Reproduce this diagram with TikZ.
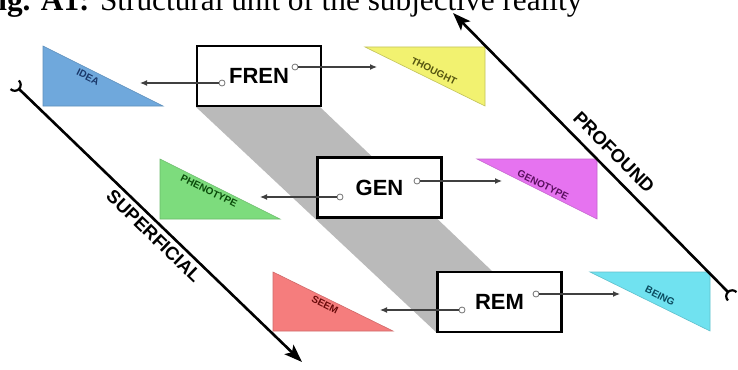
\documentclass[tikz,border=0pt]{standalone}
\usepackage{fontspec}
\setmainfont{Liberation Serif}
\setsansfont{Liberation Sans}
\usetikzlibrary{arrows.meta}
\definecolor{bandgray}{RGB}{186,186,186}
\definecolor{ideac}{RGB}{111,168,220}
\definecolor{thoughtc}{RGB}{242,242,112}
\definecolor{phenoc}{RGB}{125,220,125}
\definecolor{genoc}{RGB}{230,115,240}
\definecolor{seemc}{RGB}{245,125,125}
\definecolor{beingc}{RGB}{112,226,240}
\definecolor{ideat}{RGB}{25,55,105}
\definecolor{thoughtt}{RGB}{85,85,15}
\definecolor{phenot}{RGB}{10,75,10}
\definecolor{genot}{RGB}{90,15,95}
\definecolor{seemt}{RGB}{105,10,10}
\definecolor{beingt}{RGB}{10,75,95}
\begin{document}
\begin{tikzpicture}[x=1pt,y=-1pt,
  box/.style={draw=black, line width=2.5pt, fill=white, minimum width=124pt, minimum height=60pt, inner sep=0pt, font=\sffamily\bfseries\fontsize{22}{24}\selectfont},
  port/.style={circle, draw=black!55, fill=white, line width=0.8pt, minimum size=6pt, inner sep=0pt},
  link/.style={draw=black!75, line width=1.2pt, -{Latex[length=7pt,width=6pt]}},
  axisline/.style={line width=2.6pt, -{Stealth[length=18pt,width=13pt,inset=4pt]}},
  hook/.style={line width=2.2pt},
  axislabel/.style={font=\sffamily\bfseries\fontsize{18.5}{20}\selectfont, inner sep=0pt},
  tri/.style={line width=0.6pt},
  trilabel/.style={font=\sffamily\bfseries\fontsize{10}{11}\selectfont, rotate=-26.57, inner sep=0pt},
]
\useasboundingbox (0,0) rectangle (738,369);
\fill[white] (0,0) rectangle (738,369);

% caption (cut off at the top)
\node[anchor=base west, inner sep=0pt, font=\fontsize{31.3}{36}\selectfont] (cap) at (-21,11) {\textbf{Fig. A1:} Structural unit of the subjective reality};

% gray band
\fill[bandgray] (196,80) -- (320,80) -- (320,107) -- (492,271) -- (492,320) -- (437,333) -- (196,107) -- cycle;

% triangles
\fill[ideac, draw=ideac!85!black, tri] (43,46) -- (43,106) -- (163,106) -- cycle;
\fill[thoughtc, draw=thoughtc!80!black, tri] (365,47) -- (485,47) -- (485,106) -- cycle;
\fill[phenoc, draw=phenoc!85!black, tri] (160,159) -- (160,219) -- (280,219) -- cycle;
\fill[genoc, draw=genoc!85!black, tri] (477,159) -- (597,159) -- (597,219) -- cycle;
\fill[seemc, draw=seemc!85!black, tri] (273,272) -- (273,331) -- (393,331) -- cycle;
\fill[beingc, draw=beingc!85!black, tri] (590,272) -- (710,272) -- (710,331) -- cycle;

\node[trilabel, text=ideat] (idea) at (88,77) {IDEA};
\node[trilabel, text=thoughtt] (thought) at (434,71) {THOUGHT};
\node[trilabel, text=phenot] (pheno) at (209,191) {PHENOTYPE};
\node[trilabel, text=genot] (geno) at (543,185) {GENOTYPE};
\node[trilabel, text=seemt] (seem) at (325,305) {SEEM};
\node[trilabel, text=beingt] (being) at (660,296) {BEING};

% boxes
\node[box] (fren) at (259,76) {FREN};
\node[box] (gen) at (379.5,187.5) {GEN};
\node[box] (rem) at (499.5,302) {REM};

% connectors
\node[port] (frenl) at (222,83) {};
\node[port] (frenr) at (295,67) {};
\node[port] (genl) at (340,197) {};
\node[port] (genr) at (417,181) {};
\node[port] (reml) at (462,310) {};
\node[port] (remr) at (536,294) {};
\coordinate (toidea) at (140,83);
\coordinate (tothought) at (377,67);
\coordinate (topheno) at (260,197);
\coordinate (togeno) at (502,181);
\coordinate (toseem) at (380,310);
\coordinate (tobeing) at (620,294);
\draw[link] (frenl) -- (toidea);
\draw[link] (frenr) -- (tothought);
\draw[link] (genl) -- (topheno);
\draw[link] (genr) -- (togeno);
\draw[link] (reml) -- (toseem);
\draw[link] (remr) -- (tobeing);

% axes
\coordinate (sstart) at (19,89);
\coordinate (send) at (302,362);
\draw[axisline] (sstart) -- (send);
\draw[hook] (14.7,84.8) ++(-46:6) arc[start angle=-46, end angle=134, radius=6];
\node[axislabel, rotate=-44] (superficial) at (154,236) {SUPERFICIAL};

\coordinate (pstart) at (728,292);
\coordinate (pend) at (453,13);
\draw[axisline] (pstart) -- (pend);
\draw[hook] (732.2,296.3) ++(135.4:6) arc[start angle=135.4, end angle=315.4, radius=6];
\node[axislabel, rotate=-45] (profound) at (614,152) {PROFOUND};
\end{tikzpicture}
\end{document}
